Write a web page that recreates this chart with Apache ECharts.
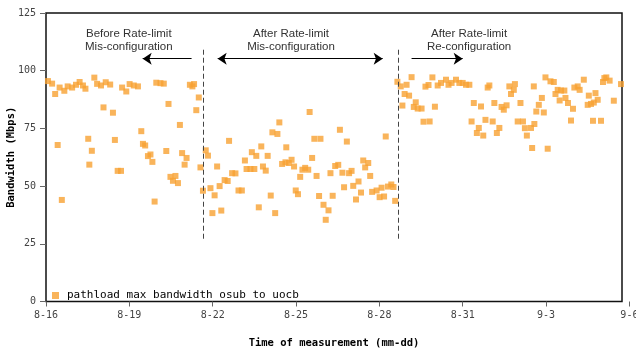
<!DOCTYPE html>
<html>
<head>
<meta charset="utf-8">
<script src="https://cdn.jsdelivr.net/npm/echarts@6/dist/echarts.min.js"></script>
<style>
html,body{margin:0;padding:0;background:#fff}
#chart{width:636px;height:349px}
</style>
</head>
<body>
<div id="chart"></div>
<script>
// x = days since 8-16 00:00, y = Mbps
var days = [
    0.07,0.22,0.33,0.49,0.66,0.78,0.94,1.08,1.21,1.33,1.42,1.74,1.84,1.98,2.15,2.31,2.74,2.89,3.01,3.16,3.31,3.97,4.12,4.24,5.18,5.27,5.33,
    0.42,0.57,1.52,1.56,1.65,2.07,2.41,2.48,2.58,2.70,3.43,3.49,3.57,3.67,3.76,3.83,3.91,4.33,4.41,4.48,4.66,4.57,4.75,4.82,4.90,4.99,5.06,5.41,5.50,5.56,
    5.65,5.75,5.83,5.92,5.99,6.07,6.16,6.25,6.31,6.43,6.54,6.59,6.70,6.82,6.93,7.05,7.16,7.22,7.36,7.50,7.41,7.57,7.66,7.75,7.81,7.91,7.98,8.09,8.15,8.33,8.25,8.40,
    8.50,8.62,8.74,8.84,8.93,8.65,8.99,9.07,9.15,9.23,9.33,9.44,9.49,9.58,9.66,9.88,9.74,9.83,9.99,10.17,10.07,10.24,10.32,10.41,10.52,10.58,10.67,10.73,10.83,10.91,
    11.00,11.06,11.16,11.25,11.34,11.42,11.60,11.49,11.67,11.74,11.90,12.08,12.01,12.17,12.23,12.31,12.43,12.51,12.57,
    12.65,12.77,12.98,13.16,12.91,13.07,12.83,13.31,13.24,13.38,13.52,13.66,13.77,13.59,13.81,13.91,14.00,14.10,14.22,14.40,14.49,14.60,14.76,14.88,15.00,15.12,15.24,
    15.32,15.40,15.51,15.58,15.66,15.74,15.82,15.90,15.96,16.08,16.14,16.23,16.32,16.40,16.48,16.58,16.68,16.74,16.84,16.88,16.98,17.08,17.17,17.24,17.31,17.46,17.50,
    17.56,17.58,17.65,17.74,17.85,17.92,17.98,18.06,18.16,18.28,18.34,18.42,18.54,18.66,18.49,18.70,18.79,18.90,18.97,19.02,19.14,19.21,19.36,19.50,19.54,19.62,19.69,
    19.72,19.78,19.86,19.98,20.05,20.10,20.17,20.29,20.44,20.70
];
var bandwidth = [
    95.5,94.4,89.9,92.7,91.3,93.2,92.7,93.9,95.1,93.6,92.2,97.0,94.3,93.6,95.0,94.0,92.7,91.0,94.2,93.6,93.2,94.8,94.6,94.4,93.9,93.2,94.2,
    67.8,44.0,70.5,59.3,65.3,84.1,81.8,70.0,56.6,56.6,73.8,68.3,67.6,63.0,63.7,60.5,43.3,65.2,85.6,54.0,54.4,52.3,51.3,76.5,64.3,59.3,62.2,82.9,88.4,58.1,
    48.0,65.5,63.2,49.1,38.3,46.0,58.5,50.0,39.4,52.6,52.2,69.6,55.6,55.5,48.1,48.1,61.1,57.4,57.4,57.4,64.7,63.1,40.8,67.2,58.5,56.7,63.1,45.9,73.3,72.6,38.3,77.6,
    59.6,60.3,60.0,61.4,58.5,66.8,48.1,46.5,54.0,57.1,57.9,57.1,82.1,62.2,70.5,70.5,54.4,45.7,41.9,39.5,35.4,55.6,45.8,58.7,59.2,74.4,55.8,49.5,69.3,55.6,
    56.6,50.1,44.2,52.0,47.2,61.1,60.0,58.1,54.4,47.5,48.1,49.3,45.2,45.5,71.5,49.8,50.7,49.6,43.6,
    95.2,93.2,93.9,97.2,89.9,89.2,84.9,86.3,84.3,83.6,83.6,93.1,93.8,77.9,78.0,97.1,84.4,93.6,94.7,96.1,93.9,94.7,96.1,94.7,94.7,93.9,93.9,
    78.0,86.0,73.0,75.2,84.5,71.9,78.7,92.7,93.6,78.0,86.0,73.0,75.2,84.3,83.1,85.0,93.2,89.9,91.7,94.2,78.0,86.0,78.0,75.1,71.9,75.2,66.5,
    93.2,76.9,82.3,85.2,88.2,81.9,97.1,66.2,95.4,95.1,89.9,91.7,91.4,91.4,87.1,88.2,86.0,78.4,83.5,92.7,93.2,91.7,96.1,85.2,89.2,85.6,78.3,
    86.2,90.3,87.4,78.3,95.1,96.8,97.1,95.7,87.0,94.2
];
var tickLabels = ['8-16', '8-19', '8-22', '8-25', '8-28', '8-31', '9-3', '9-6'];

// phase annotations (days / Mbps)
var phaseBreaks = [5.65, 12.67];
var phaseTexts = ['Before Rate-limit\nMis-configuration', 'After Rate-limit\nMis-configuration', 'After Rate-limit\nRe-configuration'];
var phaseTextX = [2.98, 8.82, 15.23];
var phaseArrows = [[5.24, 3.48, 'none', 'arrow'], [6.18, 12.12, 'arrow', 'arrow'], [13.16, 15.0, 'none', 'arrow']];

var mono = 'DejaVu Sans Mono';
var points = days.map(function (d, i) { return [d, bandwidth[i]]; });

var markLines = [];
phaseBreaks.forEach(function (x) {
    markLines.push([
        {coord: [x, 27.2], symbol: 'none', lineStyle: {type: [5, 3], color: '#444', width: 1}},
        {coord: [x, 109.1], symbol: 'none'}
    ]);
});
phaseArrows.forEach(function (a) {
    markLines.push([
        {coord: [a[0], 105.2], symbol: a[2], lineStyle: {type: 'solid', color: '#000', width: 1}},
        {coord: [a[1], 105.2], symbol: a[3]}
    ]);
});

var markPoints = phaseTexts.map(function (t, i) {
    return {coord: [phaseTextX[i], 113.2], value: t};
});

var option = {
    animation: false,
    grid: [
        {left: 46, top: 13, width: 576, height: 288.5, outerBoundsMode: 'none', show: true, borderColor: '#111', borderWidth: 1.5},
        {left: 46, top: 13, width: 583.4, height: 288.5, outerBoundsMode: 'none'}
    ],
    legend: {
        left: 47, top: 285,
        icon: 'rect', itemWidth: 7, itemHeight: 7,
        textStyle: {fontFamily: mono, fontSize: 11, color: '#000', padding: [0, 0, 0, 3]},
        data: ['pathload max bandwidth osub to uocb']
    },
    xAxis: [
        {
            type: 'value', gridIndex: 0, min: 0, max: 20.735,
            axisLine: {show: false}, axisTick: {show: false}, axisLabel: {show: false}, splitLine: {show: false},
            name: 'Time of measurement (mm-dd)', nameLocation: 'middle', nameGap: 36, nameMoveOverlap: false,
            nameTextStyle: {fontFamily: mono, fontSize: 10.5, fontWeight: 'bold', color: '#000'}
        },
        {
            type: 'value', gridIndex: 1, min: 0, max: 21, interval: 3,
            axisLine: {show: false}, splitLine: {show: false},
            axisTick: {show: true, length: 5, lineStyle: {color: '#666'}},
            axisLabel: {
                margin: 9, fontFamily: mono, fontSize: 10, color: '#444',
                formatter: function (v) { return tickLabels[Math.round(v / 3)]; }
            }
        }
    ],
    yAxis: [
        {
            type: 'value', gridIndex: 0, min: 0, max: 125, interval: 25,
            axisLine: {show: false}, splitLine: {show: false},
            axisTick: {show: true, length: 6, lineStyle: {color: '#666'}},
            axisLabel: {margin: 10, fontFamily: mono, fontSize: 10, color: '#444'},
            name: 'Bandwidth (Mbps)', nameLocation: 'middle', nameGap: 29, nameMoveOverlap: false,
            nameTextStyle: {fontFamily: mono, fontSize: 10.5, fontWeight: 'bold', color: '#000'}
        },
        {type: 'value', gridIndex: 1, min: 0, max: 125, show: false}
    ],
    series: [{
        name: 'pathload max bandwidth osub to uocb',
        type: 'scatter',
        xAxisIndex: 0, yAxisIndex: 0,
        symbol: 'rect', symbolSize: 6,
        itemStyle: {color: '#F8A132'},
        data: points,
        markLine: {
            silent: true, symbolSize: 9,
            label: {show: false},
            data: markLines
        },
        markPoint: {
            silent: true, symbol: 'rect', symbolSize: 1,
            itemStyle: {color: 'rgba(0,0,0,0)'},
            label: {
                show: true, position: 'inside',
                fontFamily: 'Liberation Sans', fontSize: 11.5, lineHeight: 13, color: '#333',
                formatter: function (p) { return p.value; }
            },
            data: markPoints
        }
    }]
};

var chart = echarts.init(document.getElementById('chart'));
chart.setOption(option);
window.addEventListener('resize', function () {
    chart.resize();
});
</script>
</body>
</html>
